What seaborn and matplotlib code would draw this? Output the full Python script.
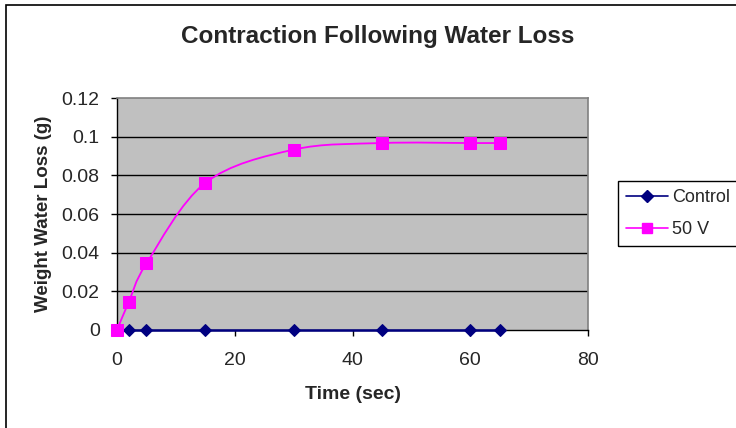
import numpy as np
import pandas as pd
import matplotlib
matplotlib.use("Agg")
import matplotlib.pyplot as plt
from matplotlib.path import Path
from matplotlib.patches import PathPatch, Rectangle
from matplotlib.lines import Line2D
import seaborn as sns

# ---- data ----
time_sec = [0, 2, 5, 15, 30, 45, 60, 65]
control = [0, 0, 0, 0, 0, 0, 0, 0]
v50 = [0, 0.0145, 0.0344, 0.0761, 0.0933, 0.0967, 0.0967, 0.0967]
series_names = ["Control", "50 V"]
x_ticks = [0, 20, 40, 60, 80]
y_ticks = [0, 0.02, 0.04, 0.06, 0.08, 0.1, 0.12]
y_ticklabels = ["0", "0.02", "0.04", "0.06", "0.08", "0.1", "0.12"]
title = "Contraction Following Water Loss"
xlabel = "Time (sec)"
ylabel = "Weight Water Loss (g)"

NAVY = "#000080"
MAGENTA = "#FF00FF"

sns.set_theme(style="white")
plt.rcParams["font.family"] = ["Liberation Sans", "DejaVu Sans"]

fig = plt.figure(figsize=(7.36, 4.28), dpi=100)
W, H = 736, 428
ax = fig.add_axes([117 / W, 98 / H, 471 / W, 232 / H])
ax.set_facecolor("#C0C0C0")

# chart outer border (extends past right/bottom edges as in reference)
fig.patches.append(Rectangle((6 / W, -0.05), 1.0, 1.05 - 4.5 / H,
                             transform=fig.transFigure, fill=False,
                             edgecolor="black", linewidth=1.2, zorder=0))
# legend frame (runs off the right edge as in reference)
fig.patches.append(Rectangle((618 / W, 1 - 246 / H), 130 / W, 65 / H,
                             transform=fig.transFigure, fill=False,
                             edgecolor="black", linewidth=1.0, zorder=1))

df_c = pd.DataFrame({"t": time_sec, "w": control})
df_v = pd.DataFrame({"t": time_sec, "w": v50})

# gridlines
for yv in y_ticks[1:-1]:
    ax.axhline(yv, color="black", linewidth=1.0, zorder=1)

# smoothed curve for 50 V (Catmull-Rom -> cubic Bezier, in data coords)
pts = np.column_stack([time_sec, v50]).astype(float)
verts = [tuple(pts[0])]
codes = [Path.MOVETO]
n = len(pts)
for i in range(n - 1):
    p0 = pts[i - 1] if i > 0 else pts[i]
    p1 = pts[i]
    p2 = pts[i + 1]
    p3 = pts[i + 2] if i + 2 < n else pts[i + 1]
    c1 = p1 + (p2 - p0) / 6.0
    c2 = p2 - (p3 - p1) / 6.0
    verts += [tuple(c1), tuple(c2), tuple(p2)]
    codes += [Path.CURVE4] * 3
ax.add_patch(PathPatch(Path(verts, codes), facecolor="none",
                       edgecolor=MAGENTA, linewidth=1.3, zorder=3))

sns.lineplot(data=df_c, x="t", y="w", ax=ax, color=NAVY, linewidth=1.8,
             marker="D", markersize=6, markeredgecolor=NAVY,
             markerfacecolor=NAVY, zorder=4, legend=False, clip_on=False)
sns.lineplot(data=df_v, x="t", y="w", ax=ax, color=MAGENTA, linestyle="",
             marker="s", markersize=8, markeredgecolor=MAGENTA,
             markerfacecolor=MAGENTA, zorder=5, legend=False, clip_on=False)

ax.set_xlim(0, 80)
ax.set_ylim(0, 0.12)
ax.set_xticks(x_ticks)
ax.set_xticklabels([str(v) for v in x_ticks], fontsize=14)
ax.set_yticks(y_ticks)
ax.set_yticklabels(y_ticklabels, fontsize=14)
ax.tick_params(axis="both", direction="out", length=4.5, width=1, color="black",
               bottom=True, left=True)
ax.tick_params(axis="y", pad=8)
ax.tick_params(axis="x", pad=11)
ax.set_xlabel(xlabel, fontsize=14, fontweight="bold", labelpad=12.5)
ax.set_ylabel(ylabel, fontsize=13.5, fontweight="bold", labelpad=6.5)

for s in ["top", "right"]:
    ax.spines[s].set_color("#808080")
    ax.spines[s].set_linewidth(1.2)
for s in ["left", "bottom"]:
    ax.spines[s].set_color("black")
    ax.spines[s].set_linewidth(1.0)
for s in ax.spines.values():
    s.set_zorder(2)

fig.text(378 / W, 1 - 37 / H, title, ha="center", va="center",
         fontsize=17.5, fontweight="bold")

handles = [
    Line2D([], [], color=NAVY, marker="D", markersize=6, linewidth=1.2,
           markerfacecolor=NAVY, markeredgecolor=NAVY),
    Line2D([], [], color=MAGENTA, marker="s", markersize=7.5, linewidth=1.2,
           markerfacecolor=MAGENTA, markeredgecolor=MAGENTA),
]
leg = fig.legend(handles, series_names, loc="center left",
                 bbox_to_anchor=(626 / W, 1 - 213.5 / H), fontsize=13,
                 frameon=False, handlelength=2.33, handletextpad=0.23,
                 borderpad=0, labelspacing=0.83, borderaxespad=0)

fig.savefig("out.png", dpi=100)
